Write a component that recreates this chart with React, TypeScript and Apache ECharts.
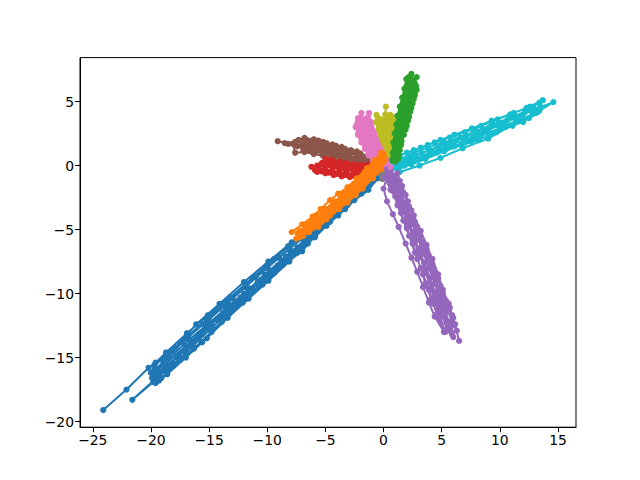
import React, { useEffect, useRef } from "react";
import * as echarts from "echarts";

const xTicks = [-25, -20, -15, -10, -5, 0, 5, 10, 15];
const yTicks = [-20, -15, -10, -5, 0, 5];

const blue = [
  [-24.1,-19.1],[-22.1,-17.5],[-20.2,-15.8],[-17.9,-14.2],[-16.1,-12.4],[-14.1,-10.8],[-12,-9.1],[-9.9,-7.5],[-7.9,-6],[-6,-4.6],[-4.1,-3.2],[-2.3,-1.9],[-0.6,-0.6],
  [-1.2,-1.5],[-3,-2.9],[-4.8,-4.2],[-6.6,-5.7],[-8.4,-7.1],[-10.2,-8.5],[-12,-10],[-13.8,-11.5],[-15.6,-13.1],[-17.2,-14.5],[-18.6,-15.7],[-19.8,-16.9],[-21.6,-18.3],
  [-19.4,-16.5],[-17.5,-15.2],[-15.6,-13.8],[-13.9,-12.2],[-12.1,-10.7],[-10.4,-9.3],[-8.7,-7.8],[-7,-6.7],[-5.5,-5],[-3.9,-3.9],[-2.5,-2.7],[-1.3,-1.9],[-0.5,-1],
  [-1,-1],[-2.8,-2.3],[-4.6,-3.6],[-6.4,-5],[-8.2,-6.3],[-10,-7.8],[-11.8,-9.2],[-13.5,-10.6],[-15.2,-12],[-16.8,-13.3],[-18.2,-14.5],[-19.7,-15.6],
  [-20,-16.2],[-18.4,-15],[-16.7,-13.6],[-15,-12.3],[-13.2,-10.9],[-11.5,-9.6],[-9.8,-8.2],[-8,-6.8],[-6.3,-5.5],[-4.5,-4],[-2.7,-2.6],[-1.2,-1.3],
  [-0.8,-1.1],[-2.2,-2.2],[-3.6,-3.4],[-5.2,-4.6],[-6.9,-6.1],[-8.7,-7.4],[-10.5,-8.9],[-12.3,-10.3],[-14,-11.8],[-15.8,-13.2],[-17.6,-14.8],[-19.4,-16.4],[-19.9,-16.6],
  [-19.3,-16.8],[-18.1,-15.6],[-16.4,-14.1],[-14.7,-12.6],[-13,-11.2],[-11.2,-9.8],[-9.4,-8.4],[-7.7,-6.9],[-5.9,-5.4],[-4.2,-3.8],[-2.4,-2.4],[-0.9,-1.2],
  [-0.7,-0.9],[-1.9,-1.8],[-3.3,-2.9],[-5,-4.1],[-7,-5.7],[-9,-7.2],[-11,-8.7],[-13,-10.4],[-15,-11.9],[-16.9,-13.5],[-18.8,-15.1],[-19.5,-15.9],
  [-18.9,-15.6],[-17,-14.1],[-15.3,-12.7],[-13.4,-11.3],[-11.6,-9.8],[-9.7,-8.3],[-7.8,-6.7],[-6,-5.2],[-4.3,-3.9],[-2.9,-2.8],[-1.6,-1.7],
  [-1.5,-1.2],[-3.5,-2.7],[-5.6,-4.3],[-7.5,-5.8],[-9.4,-7.3],[-11.3,-8.8],[-13.2,-10.3],[-15.1,-11.7],[-16.9,-13.1],[-18.7,-14.6],[-19.6,-15.4],
  [-18.9,-15.2],[-17.3,-13.8],[-15.5,-12.4],[-13.7,-11],[-11.9,-9.5],[-10,-8],[-8.1,-6.5],[-6.2,-5.1],[-4.4,-3.7],[-2.5,-2.3],[-1,-1.1],
  [-1.9,-2.2],[-3.3,-3.4],[-4.9,-4.7],[-6.5,-6.1],[-8.1,-7.5],[-9.9,-9],[-11.6,-10.4],[-13.4,-11.9],[-15.2,-13.5],[-17,-15],[-18.6,-16.3],[-19.6,-17],
  [-19.2,-16.1],[-17.7,-14.9],[-16,-13.5],[-14.3,-12],[-12.6,-10.6],[-10.8,-9.1],[-9.1,-7.8],[-7.4,-6.4],[-5.6,-4.9],[-3.9,-3.6],[-2.1,-2.1],[-0.8,-0.8],
  [-1.7,-2],[-3.1,-3.1],[-4.6,-4.4],[-5.9,-5.6],[-7.4,-6.8],[-8.9,-7.9],[-10.4,-9.1],[-11.8,-10.4],[-13.3,-11.6],[-14.8,-13],[-16.3,-14.3],[-17.9,-15.5],[-19.1,-16.6],
  [-19.7,-16.3],[-18.8,-15.7],[-17.8,-15],[-16.9,-14.3],[-15.9,-13.6],[-14.9,-12.8],[-13.9,-11.9],[-12.9,-11],[-11.9,-10.2],[-10.9,-9.3],[-9.9,-8.6],[-8.9,-7.7],[-7.9,-7],[-6.9,-6.2],[-5.9,-5.5],[-4.9,-4.4],[-3.6,-3.3],[-2,-2],
];
const orange = [
  [-7.9,-5.2],[-7,-4.6],[-6.1,-4],[-5.4,-3.4],[-4.6,-2.7],[-3.9,-2.2],[-3.1,-1.7],[-2.3,-1],[-1.4,-0.2],[-0.8,0.4],[-0.2,1],
  [0,0.9],[0.1,0.4],[-0.4,-0.1],[-1.1,-0.8],[-1.8,-1.4],[-2.5,-2],[-3.2,-2.5],[-3.9,-3.1],[-4.6,-3.5],[-5.3,-4.1],[-6,-4.6],[-6.7,-5.2],[-7.5,-5.7],
  [-6.9,-5.5],[-6.1,-4.9],[-5.3,-4.4],[-4.6,-3.9],[-3.8,-3.4],[-3.1,-2.9],[-2.4,-2.3],[-1.8,-1.8],[-0.9,-1],[-0.2,-0.3],
  [-0.4,0.4],[-1.1,-0.3],[-1.8,-0.9],[-2.6,-1.5],[-3.4,-2.2],[-4.2,-2.8],[-5,-3.4],[-5.8,-3.9],[-6.6,-4.6],[-7.4,-5.3],
  [-6.6,-5],[-5.6,-4.5],[-4.9,-3.9],[-4.1,-3.2],[-3.4,-2.6],[-2.7,-2.1],[-2,-1.5],[-1.3,-0.9],[-0.6,-0.2],
  [-0.3,0.7],[-0.9,0.1],[-1.6,-0.5],[-2.2,-1.1],[-2.9,-1.7],[-3.6,-2.3],[-4.3,-2.9],[-5,-3.5],[-5.7,-4.1],[-6.4,-4.6],[-7.2,-5.1],
  [-7,-5.3],[-6.3,-4.8],[-5.5,-4.2],[-4.8,-3.7],[-4.1,-3.1],[-3.4,-2.5],[-2.7,-1.9],[-2,-1.3],[-1.4,-0.7],[-0.8,-0.2],[-0.3,0.5],
  [0.1,0.6],[-0.2,0],[-0.8,-0.6],[-1.5,-1.2],[-2.2,-1.8],[-2.9,-2.4],[-3.6,-3],[-4.3,-3.6],[-5,-4.1],[-5.7,-4.7],[-6.4,-5.2],[-7.2,-5.6],
  [-6.8,-5.1],[-6,-4.4],[-5.2,-3.8],[-4.5,-3.2],[-3.7,-2.6],[-3,-2],[-2.3,-1.4],[-1.7,-0.9],[-1,-0.4],[-0.4,0.2],
  [-0.1,0.2],[-0.6,-0.5],[-1.3,-1.1],[-2,-1.6],[-2.7,-2.2],[-3.4,-2.8],[-4.1,-3.4],[-4.9,-4.2],[-5.6,-4.8],
];
const green = [
  [2.4,7.15],[2.2,6.4],[2,5.7],[1.8,5],[1.6,4.4],[1.4,3.8],[1.3,3.1],[1.1,2.4],[1,1.8],[0.9,1.1],[0.8,0.5],
  [1,0.3],[1.2,1],[1.35,1.7],[1.6,2.4],[1.8,3.1],[2,3.7],[2.2,4.4],[2.4,5.1],[2.6,5.8],[2.7,6.4],[2.85,6.9],
  [1.95,6.75],[1.8,6],[1.6,5.3],[1.4,4.6],[1.2,3.9],[1.1,3.2],[0.95,2.5],[0.85,1.8],[0.8,1],[0.7,0.4],
  [1.3,0.8],[1.5,1.6],[1.75,2.4],[2,3.1],[2.2,3.8],[2.4,4.5],[2.6,5.2],[2.85,5.9],
  [2.5,6.3],[2.3,5.5],[2.1,4.8],[1.9,4.1],[1.7,3.4],[1.5,2.8],[1.3,2.1],[1.1,1.4],[0.95,0.8],
  [1.1,0.6],[1.3,1.4],[1.5,2.1],[1.7,2.7],[1.9,3.4],[2.1,4.1],[2.3,4.8],[2.5,5.5],[2.6,6.1],[2.4,6.7],[2.25,6.2],[2.1,5.4],[1.9,4.7],[1.7,4.1],[1.55,3.4],[1.4,2.7],[1.2,2],[1.05,1.3],[0.9,0.7],
  [0.95,0.4],[1.05,1],[1.15,1.7],[1.3,2.4],[1.45,3],[1.6,3.7],[1.8,4.4],[2,5],[2.2,5.7],[2.35,6.3],[2.15,6.9],[2,6.2],[1.85,5.5],[1.65,4.8],[1.5,4.1],[1.35,3.5],[1.2,2.8],[1.1,2.1],[0.95,1.5],[0.85,0.8],
  [1.25,0.5],[1.4,1.2],[1.55,1.9],[1.9,2.8],[2.1,3.5],[2.3,4.2],[2.5,4.85],[2.7,5.5],[2.8,6.2],[2.55,6.6],[2.45,5.8],[2.25,5.1],[2.05,4.4],
];
const red = [
  [-6.2,-0.1],[-5.6,-0.2],[-5,-0.3],[-4.4,-0.4],[-3.8,-0.5],[-3.2,-0.6],[-2.6,-0.65],[-2,-0.5],[-1.4,-0.4],[-0.8,-0.2],
  [-1.2,-0.3],[-1.5,-0.7],[-2.2,-0.85],[-2.9,-0.9],[-3.6,-0.85],[-4.3,-0.75],[-5,-0.6],[-5.7,-0.5],
  [-5,0.5],[-4.4,0.4],[-3.8,0.3],[-3.2,0.2],[-2.6,0.1],[-2,0.05],[-1.4,0],[-0.8,0.05],[-0.3,0],
  [-1.1,-0.15],[-1.7,-0.2],[-2.3,-0.25],[-2.9,-0.2],[-3.5,-0.15],[-4.1,-0.05],[-4.7,0.05],[-5.3,0.2],
  [-0.5,-0.3],[-1.1,-0.5],[-1.8,-0.55],[-2.5,-0.45],[-3.1,-0.35],[-3.8,-0.25],[-4.4,-0.15],[-5,-0.1],[-5.7,0],
  [-5.9,-0.35],[-5.3,-0.45],[-4.7,-0.55],[-4,-0.65],[-3.4,-0.75],[-2.7,-0.8],[-2,-0.7],[-1.3,-0.55],[-0.7,-0.35],
  [-0.6,-0.1],[-1.2,0.1],[-1.8,0],[-2.4,-0.05],[-3,-0.05],[-3.6,0.05],[-4.2,0.15],[-4.8,0.3],
  [-4.6,0.45],[-4,0.1],[-3.4,0],[-2.8,0],[-2.2,-0.1],[-1.6,-0.05],
  [-5,0.15],[-4.5,0.25],[-3.9,-0.1],[-3.3,-0.3],[-2.5,-0.35],[-1.9,-0.35],[-1.2,-0.25],
];
const purple = [
  [6.5,-13.7],[6.15,-12.4],[5.7,-11.1],[5.1,-10],[4.7,-8.8],[4.2,-7.7],[3.7,-6.5],[3.1,-5.4],[2.7,-4.4],[2.2,-3.2],[1.7,-2.1],[1,-1],[0.5,-0.3],
  [0,-1.8],[0.3,-2.8],[0.8,-3.8],[1.3,-4.8],[1.9,-6.1],[2.4,-7.2],[2.9,-8.3],[3.4,-9.5],[3.9,-10.7],[4.4,-11.8],[5.2,-13],
  [4.8,-12],[4.3,-10.8],[3.9,-9.7],[3.4,-8.5],[2.9,-7.3],[2.5,-6.1],[2,-4.9],[1.5,-3.7],[1,-2.4],[0.5,-1.2],
  [1,-1.5],[1.5,-2.8],[2,-4],[2.5,-5.2],[3,-6.5],[3.5,-7.6],[4,-8.8],[4.4,-10],[4.9,-11.1],[5.4,-12.3],[6,-13.4],
  [5.6,-12.2],[5.2,-11],[4.7,-9.8],[4.3,-8.7],[3.8,-7.5],[3.3,-6.3],[2.8,-5.2],[2.3,-4],[1.8,-2.9],[1.2,-1.8],[0.6,-0.6],
  [0.8,-2],[1.2,-3.1],[1.7,-4.3],[2.2,-5.5],[2.7,-6.8],[3.2,-8],[3.6,-9.2],[4.1,-10.4],[4.6,-11.6],[5.3,-13],
  [0.9,-0.8],[1.4,-1.9],[1.9,-3.1],[2.4,-4.3],[2.9,-5.5],[3.4,-6.8],[3.9,-8],[4.4,-9.2],[4.8,-10.3],[5.3,-11.5],[5.8,-12.6],[5.9,-13.2],
  [5.5,-12.7],[5,-11.7],[4.5,-10.5],[4.1,-9.4],[3.6,-8.2],[3.1,-7],[2.6,-5.8],[2.1,-4.5],[1.6,-3.3],[1.1,-2.2],[0.7,-1],
  [1.4,-1.2],[1.9,-2.3],[2.4,-3.5],[2.9,-4.8],[3.4,-6],[3.9,-7.2],[4.4,-8.3],[4.9,-9.4],[5.4,-10.6],[5.9,-11.7],[6.3,-12.9],
  [5.9,-12.2],[5.5,-11.3],[5,-10.2],[4.5,-9],[4,-8],[3.5,-6.9],[3,-5.8],[2.5,-4.6],[2,-3.5],[1.5,-2.4],[0.9,-1.3],
  [1.2,-0.6],[1.6,-1.6],[2.1,-2.8],[2.6,-3.9],[3.2,-5.1],[3.7,-6.2],[4.2,-7.3],[4.7,-8.5],[5.1,-9.7],[5.6,-10.8],[6,-11.9],[5.8,-13],
  [0.2,-0.2],[0.3,-1],[0.7,-1.6],[1.3,-2.4],[0.6,-1.9],[0.1,-0.9],[0.6,-0.3],
];
const brown = [
  [-9.1,1.9],[-8.2,1.7],[-7.4,1.5],[-6.6,1.3],[-5.8,1.1],[-5,0.9],[-4.2,0.7],[-3.4,0.5],[-2.6,0.3],[-1.8,0.1],[-1,-0.1],
  [-1.5,0.7],[-2.3,0.9],[-3.1,1.05],[-3.9,1.25],[-4.7,1.45],[-5.5,1.7],[-6.3,1.9],[-6.8,2.15],
  [-7.3,2],[-6.4,1.6],[-5.6,1.4],[-4.8,1.2],[-4,1],[-3.2,0.8],[-2.4,0.6],[-1.6,0.45],[-0.8,0.2],
  [-1.4,0.3],[-2.2,0.45],[-3,0.6],[-3.8,0.8],[-4.6,1],[-5.4,1.2],[-6.2,1.4],[-7,1.65],[-7.8,1.7],
  [-7.6,1],[-6.8,1.05],[-6,0.9],[-5.2,0.75],[-4.4,0.55],[-3.6,0.35],[-2.8,0.2],[-2,0.05],
  [-2,0.95],[-2.8,1.2],[-3.6,1.45],[-4.4,1.65],[-5.2,1.85],[-6,2.05],[-6.6,2],[-5.8,1.6],[-5,1.35],
  [-8.5,1.75],[-7.6,1.6],[-6.9,1.4],[-6.1,1.2],[-5.3,1],[-4.5,0.8],[-3.7,0.6],[-2.9,0.45],[-2.1,0.25],[-1.3,0.05],
  [-1.2,0.55],[-2,0.75],[-2.8,0.95],[-3.6,1.1],[-4.4,1.3],[-5.2,1.5],[-6,1.7],[-6.8,1.85],[-7.6,1.85],
  [-6.9,1.2],[-6.1,1.1],[-5.3,1.3],[-4.5,1.1],[-3.7,0.95],
  [-5.9,1.9],[-5.1,1.65],[-4.3,1.45],[-3.5,1.2],[-2.7,1.05],[-1.9,0.8],
  [-2.3,1.1],[-3.3,1.3],[-4.1,1.55],[-4.9,1.75],[-5.6,1.95],
];
const pink = [
  [-1.9,4.1],[-1.9,3.5],[-1.7,2.9],[-1.5,2.3],[-1.2,1.8],[-1,1.3],[-0.7,0.8],[-0.4,0.3],
  [-0.9,0.6],[-1.3,1.1],[-1.6,1.6],[-1.9,2.1],[-2.15,2.6],[-2.4,3],[-2.2,3.4],
  [-2.1,2.8],[-1.7,2.2],[-1.4,1.6],[-1.1,1],[-0.7,0.5],
  [-0.1,0.4],[-0.4,1.1],[-0.7,1.7],[-1,2.3],[-1.2,2.9],[-1.25,3.5],[-1.25,4.1],
  [-1.1,3.4],[-0.95,2.8],[-0.7,2.2],[-0.45,1.6],[-0.15,1.1],[0.2,0.5],[0.6,-0.1],
  [0,0.3],[-0.4,0.8],[-0.9,1.4],[-1.4,2.4],[-1.9,3.2],[-2.2,3.7],
  [-2.3,3.2],[-2.2,2.4],[-1.9,1.8],[-1.6,1.3],[-1.3,0.8],[-0.9,0.3],
  [-0.6,0.2],[-0.9,0.9],[-1.2,1.5],[-1.5,2],[-1.7,2.6],[-2,3],[-2,3.7],
  [-1.75,3.5],[-1.6,3],[-1.4,2.6],[-1.2,2.1],[-0.95,1.6],[-0.65,1.1],[-0.35,0.6],[0.05,0.1],
  [0.3,0.2],[-0.1,0.8],[-0.4,1.4],[-0.75,2],[-1.05,2.6],[-1.3,3.2],[-1.5,3.7],
  [-1.45,3.2],[-1.65,2.4],[-1.25,1.7],[-0.85,1.1],[-0.55,0.6],
  [-0.9,2],[-1.1,2.6],[-1.05,3.1],[-0.8,2.5],[-0.55,1.9],[-0.3,1.35],
];
const gray = [
  [0.3,0.2],[0,-0.3],[-0.2,-0.7],[-0.1,-1.05],[0.1,-0.5],[0.4,-0.1],[-0.2,-0.6],[-0.1,-0.9],
];
const olive = [
  [0.2,4.6],[0.15,4],[0.1,3.4],[0.1,2.8],[0.15,2.2],[0.2,1.6],[0.3,1],[0.4,0.4],
  [0.2,0.3],[0,1],[-0.1,1.6],[-0.25,2.2],[-0.35,2.8],[-0.5,3.4],[-0.6,3.95],
  [-0.4,3.4],[-0.2,2.9],[0,2.3],[0.15,1.6],[0.3,0.8],
  [0.4,0.5],[0.45,1.1],[0.5,1.7],[0.5,2.3],[0.55,2.9],[0.6,3.5],[0.6,3.95],
  [0.8,3.4],[0.75,2.8],[0.7,2.2],[0.65,1.6],[0.6,1],[0.5,0.4],
  [0.2,0.8],[0.1,2],[0,3],[-0.1,3.6],[0.3,3.9],
  [0.95,3.6],[0.9,2.8],[0.85,2],[0.8,1.2],[0.7,0.5],
  [0.1,0.6],[-0.1,1.3],[-0.3,2],[-0.5,2.7],[-0.65,3.4],[-0.45,3.7],[-0.2,3.2],[0,2.6],[0.2,1.9],[0.3,1.3],
  [0.35,1.9],[0.3,2.6],[0.35,3.3],[0.4,3.9],[0.25,3.5],[0.2,3],[0.3,2.3],[0.4,1.6],
  [0.75,1.4],[0.85,2.4],[0.9,3.2],[0.75,3.8],[0.45,3.2],[0.6,2.5],[0.55,1.9],
];
const cyan = [
  [13.7,5.1],[12.3,4.5],[10.9,4],[9.3,3.5],[7.6,2.9],[6.1,2.4],[4.9,2],[3.8,1.6],[2.6,1.2],[1.4,0.8],[0.6,0.3],
  [1.2,0.2],[2.5,0.8],[4,1.2],[5.6,1.7],[7.1,2.3],[8.6,2.8],[10,3.3],[11.5,3.8],[13,4.4],[14.6,4.95],
  [13.3,4.2],[11.1,3.2],[9,2.1],[6.8,1.35],[4.9,0.6],[3.1,0],[1.4,-0.5],
  [1,-0.1],[2.4,0.35],[3.9,0.85],[5.4,1.3],[7,1.8],[8.4,2.4],[10,2.8],[11.4,3.4],[12.8,4],[13.4,4.3],
  [12,3.4],[10.5,3],[9,2.6],[7.5,1.9],[6,1.5],[4.5,1],[3,0.5],[1.8,0],[0.7,-0.3],
  [1,0.6],[2,1],[3.2,1.4],[4.4,1.8],[5.7,2.2],[7,2.6],[8.4,3.1],[9.8,3.6],[11.2,4.1],[12.6,4.6],[13.4,4.9],
  [12.2,4.2],[10.8,3.7],[9.4,3.2],[8,2.7],[6.6,2.2],[5.2,1.8],[3.8,1.4],[2.6,1],[1.5,0.5],[0.8,0.1],
  [1.2,-0.2],[2.2,0.2],[3.4,0.6],[4.7,1.1],[6.1,1.5],[7.6,2.1],[9,2.5],[10.4,3.1],[11.8,3.6],[13.1,4.1],
  [12.5,3.7],[11.1,3.1],[9.7,2.6],[8.2,2],[6.7,1.6],[5.2,1.1],[3.6,0.5],[2.4,0.1],[1.2,-0.3],
  [1,0.1],[2,0.5],[3.3,0.95],[4.7,1.5],[6.2,1.95],[7.7,2.5],[9.1,3],[10.6,3.5],[12,4],[13.5,4.6],
  [12.7,4.3],[11.3,3.7],[9.9,3.1],[8.5,2.6],[7,2],[5.6,1.55],[4.2,1.05],[2.8,0.6],[1.6,0.2],
];

const seriesList = [
  { data: blue, color: "#1f77b4", z: 2 },
  { data: gray, color: "#7f7f7f", z: 3 },
  { data: cyan, color: "#17becf", z: 4 },
  { data: brown, color: "#8c564b", z: 4 },
  { data: olive, color: "#bcbd22", z: 5 },
  { data: green, color: "#2ca02c", z: 6 },
  { data: red, color: "#d62728", z: 7 },
  { data: purple, color: "#9467bd", z: 7 },
  { data: pink, color: "#e377c2", z: 8 },
  { data: orange, color: "#ff7f0e", z: 9 },
];

const fmt = (v: number) => String(v).replace("-", "\u2212");

function axis(min: number, max: number, ticks: number[]) {
  return {
    type: "value",
    min,
    max,
    splitLine: { show: false },
    axisLine: { show: true, onZero: false, lineStyle: { color: "#000", width: 1 } },
    axisTick: { show: true, length: 5, customValues: ticks, lineStyle: { color: "#000", width: 1 } },
    axisLabel: {
      customValues: ticks,
      formatter: fmt,
      color: "#000",
      fontFamily: "DejaVu Sans",
      fontSize: 13.9,
      margin: 6,
    },
  };
}

export default function App() {
  const ref = useRef<HTMLDivElement>(null);
  useEffect(() => {
    const chart = echarts.init(ref.current!, null, { renderer: "svg" });
    chart.setOption({
      animation: false,
      backgroundColor: "#fff",
      grid: { left: 80, right: 64, top: 57.6, bottom: 52.8, show: true, borderColor: "#000", borderWidth: 1 },
      xAxis: axis(-26.1, 16.55, xTicks),
      yAxis: axis(-20.44, 8.43, yTicks),
      series: seriesList.map((s) => ({
        type: "line",
        data: s.data,
        z: s.z,
        symbol: "circle",
        symbolSize: 6.2,
        showSymbol: true,
        clip: true,
        lineStyle: { color: s.color, width: 2 },
        itemStyle: { color: s.color, borderWidth: 0 },
        emphasis: { disabled: true },
      })),
    });
    return () => chart.dispose();
  }, []);
  return <div ref={ref} style={{ position: "absolute", left: 0, top: 0, width: 640, height: 480 }} />;
}
